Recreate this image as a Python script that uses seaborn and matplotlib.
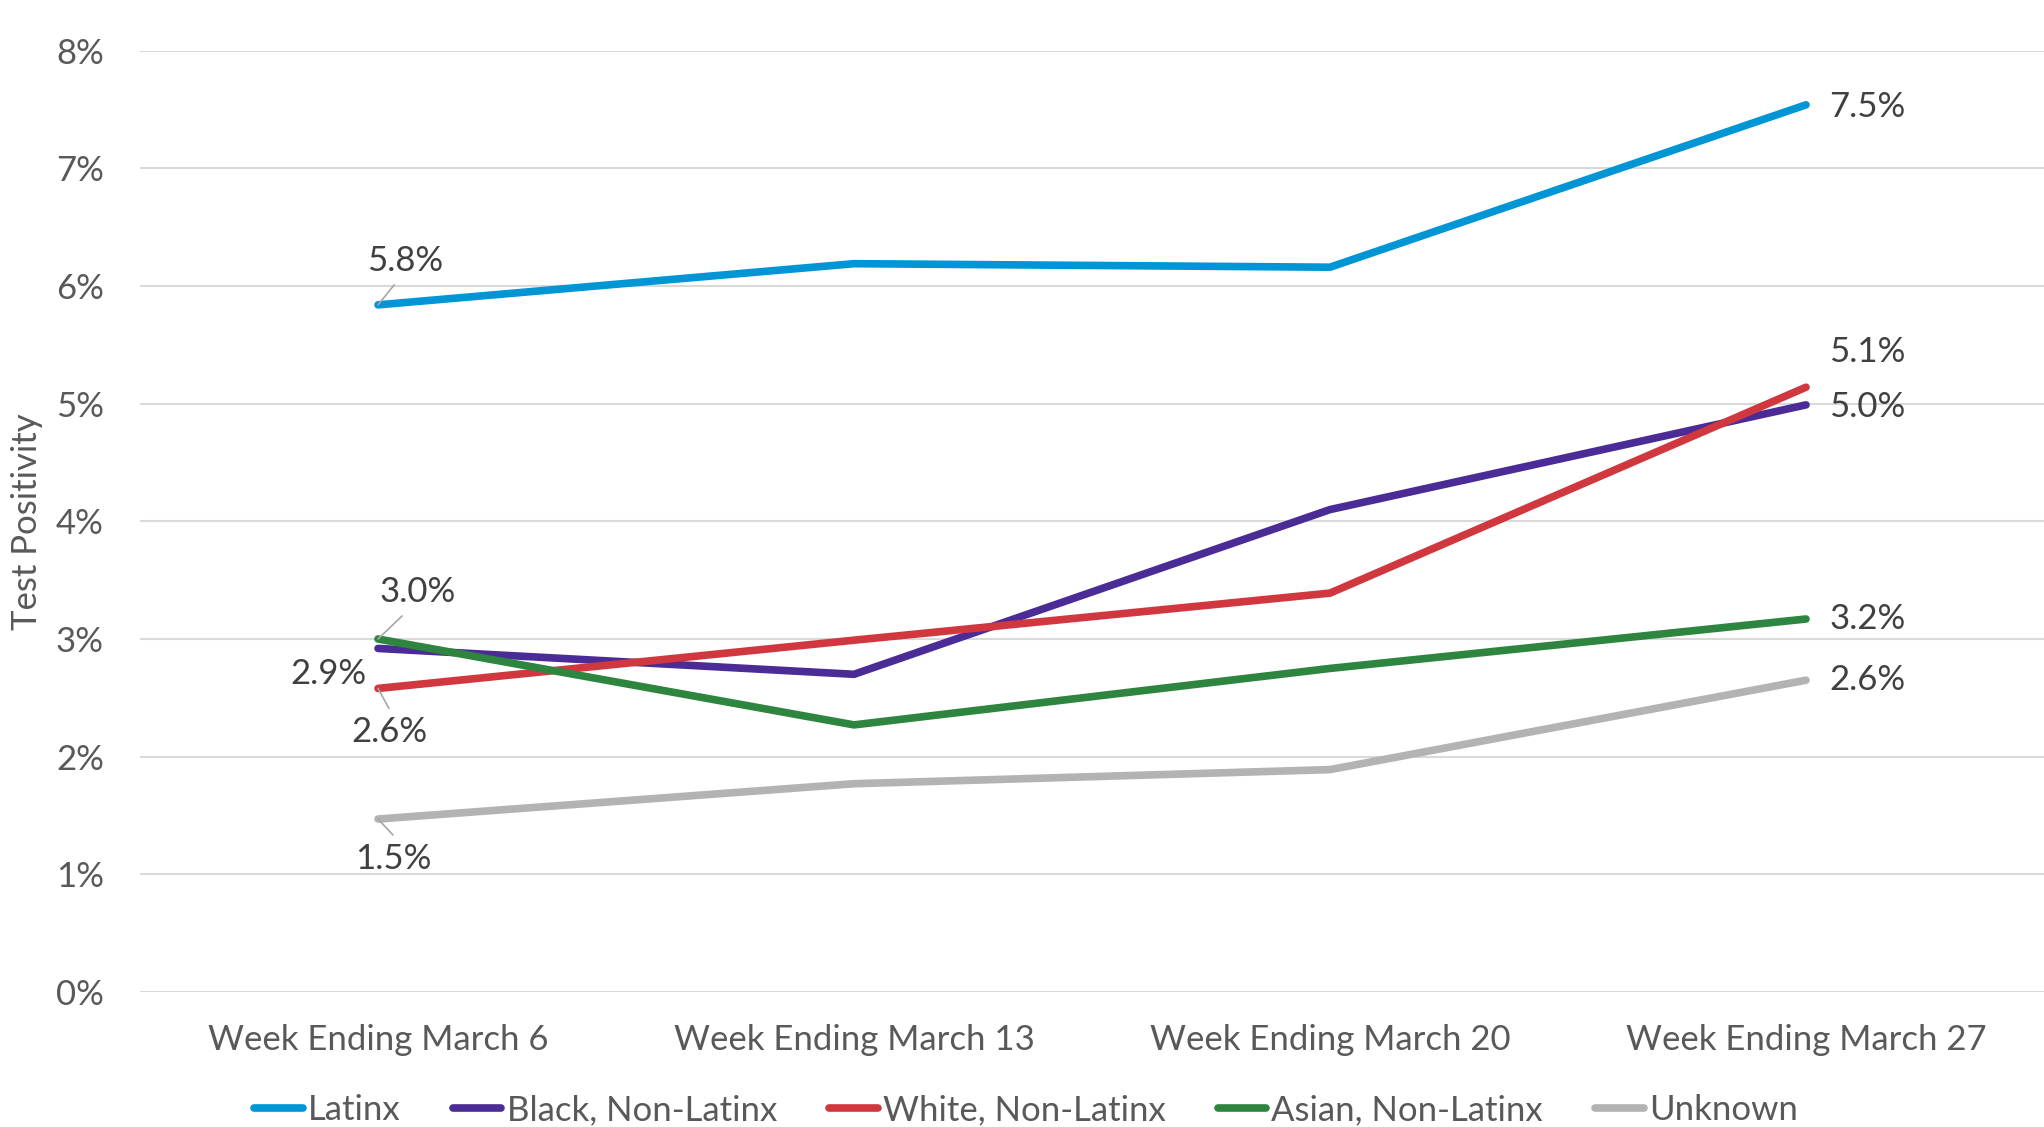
import matplotlib
matplotlib.use("Agg")
import matplotlib.pyplot as plt
import seaborn as sns
import pandas as pd

# chart data
weeks = ["Week Ending March 6", "Week Ending March 13",
         "Week Ending March 20", "Week Ending March 27"]
groups = ["Latinx", "Black, Non-Latinx", "White, Non-Latinx",
          "Asian, Non-Latinx", "Unknown"]
latinx = [5.84, 6.19, 6.16, 7.54]
black = [2.92, 2.70, 4.10, 4.99]
white = [2.58, 2.99, 3.39, 5.14]
asian = [3.00, 2.27, 2.75, 3.17]
unknown = [1.47, 1.77, 1.89, 2.65]
colors = ["#0096d6", "#4b2c96", "#d1373f", "#2e853f", "#b3b3b3"]
y_ticks = [0, 1, 2, 3, 4, 5, 6, 7, 8]

series = [latinx, black, white, asian, unknown]
rows = []
for g, vals in zip(groups, series):
    for w, v in zip(weeks, vals):
        rows.append({"week": w, "group": g, "value": v})
df = pd.DataFrame(rows)

sns.set_style("white")
plt.rcParams["font.family"] = ["Lato", "DejaVu Sans"]
FS = 25
TXT = "#595959"
LBL = "#404040"

fig = plt.figure(figsize=(20.44, 11.27), dpi=100)
ax = fig.add_axes([0.0685, 0.1198, 0.9315, 0.8352])

sns.lineplot(data=df, x="week", y="value", hue="group", hue_order=groups,
             palette=colors, linewidth=5.5, sort=False, ax=ax, legend=False,
             solid_capstyle="round")

ax.set_xlim(-0.5, 3.5)
ax.set_ylim(0, 8)
ax.set_yticks(y_ticks)
ax.set_yticklabels([f"{t}%" for t in y_ticks])
ax.grid(axis="y", color="#d9d9d9", linewidth=1.5)
ax.grid(axis="x", visible=False)
ax.set_axisbelow(True)
for s in ax.spines.values():
    s.set_visible(False)
ax.tick_params(axis="y", length=0, pad=26, labelsize=FS, labelcolor=TXT)
ax.tick_params(axis="x", length=0, pad=23, labelsize=FS, labelcolor=TXT)
ax.set_xlabel("")
ax.set_ylabel("Test Positivity", fontsize=FS, color=TXT)
ax.yaxis.set_label_coords(-0.051, 0.5)

# data labels (offsets in pixels: dx, dy, leader)
first_offsets = {
    "Latinx": (27, 44, True),
    "Black, Non-Latinx": (-50, -26, False),
    "White, Non-Latinx": (11, -44, True),
    "Asian, Non-Latinx": (40, 47, True),
    "Unknown": (15, -40, True),
}
last_offsets = {
    "Latinx": (0, -2),
    "Black, Non-Latinx": (0, -2),
    "White, Non-Latinx": (0, 35),
    "Asian, Non-Latinx": (0, 0),
    "Unknown": (0, 0),
}
for g, vals in zip(groups, series):
    dx, dy, leader = first_offsets[g]
    ax.annotate(f"{vals[0]:.1f}%", xy=(0, vals[0]), xytext=(dx, dy),
                textcoords="offset pixels", ha="center", va="center",
                fontsize=FS, color=LBL)
    if leader:
        lx = dx * 0.6 if abs(dx) > 20 else dx
        ly = dy - (24 if dy > 0 else -24)
        ax.annotate("", xy=(0, vals[0]), xytext=(lx, ly),
                    textcoords="offset pixels",
                    arrowprops=dict(arrowstyle="-", color="#a6a6a6", lw=1.2,
                                    shrinkA=0, shrinkB=0))
    ddx, ddy = last_offsets[g]
    ax.annotate(f"{vals[-1]:.1f}%", xy=(3, vals[-1]), xytext=(23 + ddx, ddy),
                textcoords="offset pixels", ha="left", va="center",
                fontsize=FS, color=LBL)

handles = [plt.Line2D([], [], color=c, linewidth=5.5, solid_capstyle="round")
           for c in colors]
fig.legend(handles, groups, loc="center", bbox_to_anchor=(0.502, 0.015),
           ncol=5, frameon=False, fontsize=FS, labelcolor=TXT,
           handlelength=1.4, handletextpad=0.15, columnspacing=1.5)

fig.savefig("out.png", dpi=100, facecolor="white")
